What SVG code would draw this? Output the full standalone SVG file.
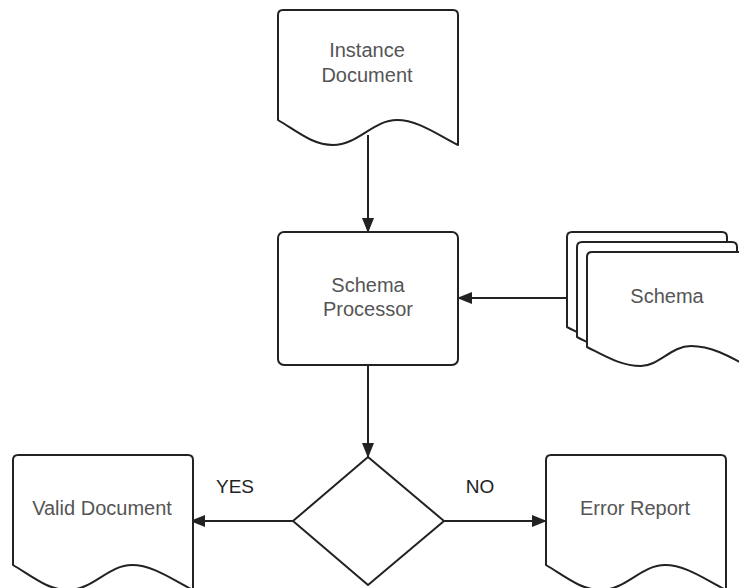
<svg xmlns="http://www.w3.org/2000/svg" xmlns:xlink="http://www.w3.org/1999/xlink" width="739" height="588" viewBox="0 0 739 588">
  <style>
    .shape { fill: #ffffff; stroke: #222222; stroke-width: 2; stroke-linejoin: round; }
    .edge { fill: none; stroke: #222222; stroke-width: 2; }
    .label { font-family: "Liberation Sans", Arial, sans-serif; font-size: 20px; fill: #555555; text-anchor: middle; }
    .branch { font-family: "Liberation Sans", Arial, sans-serif; font-size: 19px; fill: #222222; text-anchor: middle; }
  </style>
  <defs>
    <marker id="arrow" markerUnits="userSpaceOnUse" markerWidth="15" markerHeight="12" refX="14" refY="6" orient="auto">
      <path d="M0,0 L15,6 L0,12 Z" fill="#222222"/>
    </marker>
    <!-- document shape, 180 wide, wavy bottom -->
    <path id="doc" d="M5,0 H175 Q180,0 180,5 V135 C160,125 140,110 119,110 C95,110 80,135 55,135 C35,135 20,122 0,110 V5 Q0,0 5,0 Z"/>
    <!-- document page used in the schema stack, 160 wide -->
    <path id="page" d="M5,0 H155 Q160,0 160,5 V114 C142,104 124,94 104,94 C84,94 72,114 54,114 C34,114 18,104 0,95 V5 Q0,0 5,0 Z"/>
  </defs>

  <g id="connectors">
    <line class="edge" x1="368" y1="135" x2="368" y2="232" marker-end="url(#arrow)"/>
    <line class="edge" x1="567" y1="298" x2="458" y2="298" marker-end="url(#arrow)"/>
    <line class="edge" x1="368" y1="365" x2="368" y2="457" marker-end="url(#arrow)"/>
    <line class="edge" x1="293" y1="521" x2="191" y2="521" marker-end="url(#arrow)"/>
    <line class="edge" x1="444" y1="521" x2="546" y2="521" marker-end="url(#arrow)"/>
    <text class="branch" x="235" y="493">YES</text>
    <text class="branch" x="480" y="493">NO</text>
  </g>

  <g id="instance-document">
    <use xlink:href="#doc" class="shape" transform="translate(278,10)"/>
    <text class="label" x="367" y="57">Instance</text>
    <text class="label" x="367" y="82">Document</text>
  </g>

  <g id="schema-processor">
    <rect class="shape" x="278" y="232" width="180" height="133" rx="6"/>
    <text class="label" x="368" y="292">Schema</text>
    <text class="label" x="368" y="316">Processor</text>
  </g>

  <g id="schema">
    <use xlink:href="#page" class="shape" transform="translate(567,232)"/>
    <use xlink:href="#page" class="shape" transform="translate(577,242)"/>
    <use xlink:href="#page" class="shape" transform="translate(587,252)"/>
    <text class="label" x="667" y="303">Schema</text>
  </g>

  <g id="decision">
    <polygon class="shape" points="368,457 444,521 368,585 293,521"/>
  </g>

  <g id="valid-document">
    <use xlink:href="#doc" class="shape" transform="translate(13,455)"/>
    <text class="label" x="102" y="515">Valid Document</text>
  </g>

  <g id="error-report">
    <use xlink:href="#doc" class="shape" transform="translate(546,455)"/>
    <text class="label" x="635" y="515">Error Report</text>
  </g>
</svg>
